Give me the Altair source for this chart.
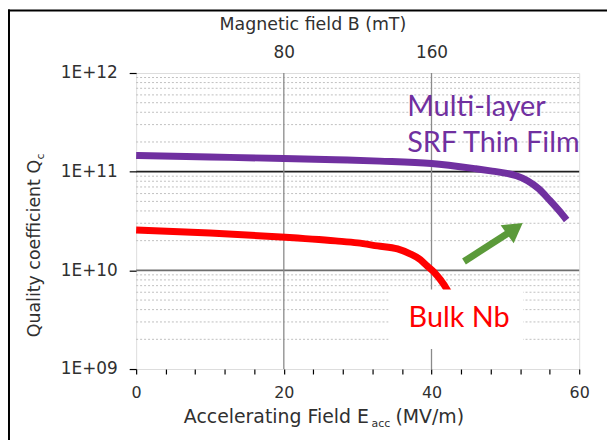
import altair as alt
import pandas as pd

# ---------------- data ----------------
# Multi-layer SRF thin film (purple)
film_E = [0, 10, 20, 27, 33, 40, 46, 48, 50, 51.5, 53, 54.5, 56, 57.2, 58.3]
film_Q = [1.46e11, 1.41e11, 1.36e11, 1.32e11, 1.28e11, 1.21e11, 1.07e11,
          1.02e11, 9.67e10, 9.08e10, 8.09e10, 6.72e10, 5.14e10, 4.08e10, 3.24e10]

# Bulk Nb (red)
nb_E = [0, 10, 19.6, 27, 30, 32.7, 35.4, 37.1, 38.5, 39.4, 40.4, 41.2, 42.1, 43.0]
nb_Q = [2.57e10, 2.39e10, 2.18e10, 1.99e10, 1.90e10, 1.77e10, 1.65e10,
        1.47e10, 1.28e10, 1.11e10, 9.5e9, 8.05e9, 6.4e9, 4.8e9]

# axes / grid
x_tick_values = [0, 4, 8, 12, 16, 20, 24, 28, 32, 36, 40, 44, 48, 52, 56, 60]
y_tick_values = [1e9, 1e10, 1e11, 1e12]
b_tick_values = [80, 160]          # magnetic field (mT), top axis
minor_grid_Q = [2e9, 3e9, 4e9, 5e9, 6e9, 7e9, 8e9, 9e9,
                2e10, 3e10, 4e10, 5e10, 6e10, 7e10, 8e10, 9e10,
                2e11, 3e11, 4e11, 5e11, 6e11, 7e11, 8e11, 9e11]
major_grid_dark_Q = [1e11]
major_grid_light_Q = [1e10]

# annotations
arrow_E = [44.4, 51.3]
arrow_Q = [1.23e10, 2.65e10]
label_box_E = [34.2, 52.4]
label_box_Q = [1.6e9, 6.4e9]
film_label_lines = ["Multi-layer", "SRF Thin Film"]
film_label_E = [36.7, 36.7]
film_label_Q = [3.69e11, 1.58e11]
nb_label = ["Bulk Nb"]
nb_label_E = [36.9]
nb_label_Q = [2.69e9]

PURPLE = "#7030a0"
RED = "#ff0000"
GREEN = "#5b9a3a"
AXIS_TXT = "#303030"
FONT = "DejaVu Sans"
ANN_FONT = "Lato"


def xE(axis=None):
    return alt.X("E:Q", scale=alt.Scale(domain=[0, 60], nice=False, zero=False), axis=axis)


def xE2(field):
    return alt.X2(f"{field}:Q")


def yQ(field="Q", axis=None):
    return alt.Y(f"{field}:Q", scale=alt.Scale(type="log", domain=[1e9, 1e12], nice=False), axis=axis)


# ---------------- layers ----------------
minor_grid = alt.Chart(pd.DataFrame({"Q": minor_grid_Q})).mark_rule(
    color="#c0c0c0", strokeWidth=1, strokeDash=[2, 2]
).encode(
    y=yQ(axis=alt.Axis(
        values=y_tick_values, grid=False, domain=False, ticks=True, tickSize=7,
        tickColor="black", tickWidth=1.2,
        labelExpr="'1E+' + (datum.value < 5e9 ? '09' : format(log(datum.value)/LN10, '.0f'))",
        labelFont=FONT, labelFontSize=17, labelColor=AXIS_TXT, labelPadding=12,
        title=None,
    ))
)

major_dark = alt.Chart(pd.DataFrame({"Q": major_grid_dark_Q})).mark_rule(
    color="#202020", strokeWidth=1.8
).encode(y=yQ())

major_light = alt.Chart(pd.DataFrame({"Q": major_grid_light_Q})).mark_rule(
    color="#6e6e6e", strokeWidth=1.6
).encode(y=yQ())

# vertical grid lines at B = 80, 160 mT (E = 20, 40 MV/m) carry the top axis
top_axis = alt.Chart(pd.DataFrame({"B": b_tick_values})).mark_rule(
    color="#8a8a8a", strokeWidth=1.3
).encode(
    x=alt.X("B:Q", scale=alt.Scale(domain=[0, 240], nice=False, zero=False),
            axis=alt.Axis(orient="top", values=b_tick_values, grid=False, domain=False,
                          ticks=False, tickSize=0, labelFont=FONT, labelFontSize=17,
                          labelColor=AXIS_TXT, labelPadding=12, title=None))
)

nb_line = alt.Chart(pd.DataFrame({"E": nb_E, "Q": nb_Q})).mark_line(
    color=RED, strokeWidth=7, interpolate="monotone", strokeCap="butt"
).encode(
    x=xE(axis=alt.Axis(
        values=x_tick_values, grid=False, domain=False, ticks=True, tickSize=5,
        tickColor="black", tickWidth=1.2,
        labelExpr="datum.value % 20 == 0 ? datum.label : ''",
        labelFont=FONT, labelFontSize=16, labelColor=AXIS_TXT, labelPadding=11,
        labelFlush=False, title=None,
    )),
    y=yQ(),
)

film_line = alt.Chart(pd.DataFrame({"E": film_E, "Q": film_Q})).mark_line(
    color=PURPLE, strokeWidth=7, interpolate="monotone", strokeCap="butt"
).encode(x=xE(), y=yQ())

label_box = alt.Chart(pd.DataFrame({
    "E": [label_box_E[0]], "E2": [label_box_E[1]],
    "Q": [label_box_Q[0]], "Q2": [label_box_Q[1]],
})).mark_rect(color="white").encode(
    x=xE(), x2=xE2("E2"), y=yQ(), y2=alt.Y2("Q2:Q")
)

arrow_shaft = alt.Chart(pd.DataFrame({"E": arrow_E, "Q": arrow_Q})).mark_line(
    color=GREEN, strokeWidth=7, strokeCap="butt"
).encode(x=xE(), y=yQ())

arrow_head = alt.Chart(pd.DataFrame({"E": arrow_E[1:], "Q": arrow_Q[1:]})).mark_point(
    shape="triangle-up", filled=True, color=GREEN, opacity=1, size=500, angle=54
).encode(x=xE(), y=yQ())

film_text = alt.Chart(pd.DataFrame({
    "E": film_label_E, "Q": film_label_Q, "t": film_label_lines
})).mark_text(
    align="left", baseline="alphabetic", font=ANN_FONT, fontSize=29, color=PURPLE
).encode(x=xE(), y=yQ(), text="t:N")

nb_text = alt.Chart(pd.DataFrame({
    "E": nb_label_E, "Q": nb_label_Q, "t": nb_label
})).mark_text(
    align="left", baseline="alphabetic", font=ANN_FONT, fontSize=29, color=RED
).encode(x=xE(), y=yQ(), text="t:N")


def title_piece(text, x, y, size, angle=0):
    return alt.Chart(pd.DataFrame({"t": [text]})).mark_text(
        align="left", baseline="alphabetic", font=FONT, fontSize=size,
        color=AXIS_TXT, angle=angle
    ).encode(x=alt.value(x), y=alt.value(y), text="t:N")


x_title = [
    title_piece("Accelerating Field E", 48, 352, 19),
    title_piece("acc", 237, 356, 11),
    title_piece("(MV/m)", 261, 352, 19),
]
top_title = [title_piece("Magnetic field B (mT)", 84, -43, 17.5)]
y_title = [
    title_piece("Quality coefficient Q", -97, 266, 17.5, angle=270),
    title_piece("c", -93, 87, 11, angle=270),
]

frame_left = alt.Chart(pd.DataFrame({"t": [0]})).mark_rule(color="black", strokeWidth=2).encode(
    x=alt.value(-128), y=alt.value(-64), y2=alt.value(380)
)
frame_top = alt.Chart(pd.DataFrame({"t": [0]})).mark_rule(color="black", strokeWidth=2).encode(
    y=alt.value(-63), x=alt.value(-129), x2=alt.value(482)
)

chart = alt.layer(
    minor_grid, major_light, major_dark, top_axis, nb_line, film_line, label_box,
    nb_text, arrow_shaft, arrow_head, film_text,
    *x_title, *top_title, *y_title, frame_left, frame_top,
).resolve_scale(
    x="independent", y="independent"
).resolve_axis(
    x="independent", y="independent"
).properties(
    width=446, height=298,
    autosize=alt.AutoSizeParams(type="none"),
    padding={"left": 129, "top": 64, "right": 28, "bottom": 70},
).configure_view(
    stroke="black", strokeWidth=1.5
).configure(background="white")

chart.save("out.html", embed_options={"renderer": "svg", "actions": False})
